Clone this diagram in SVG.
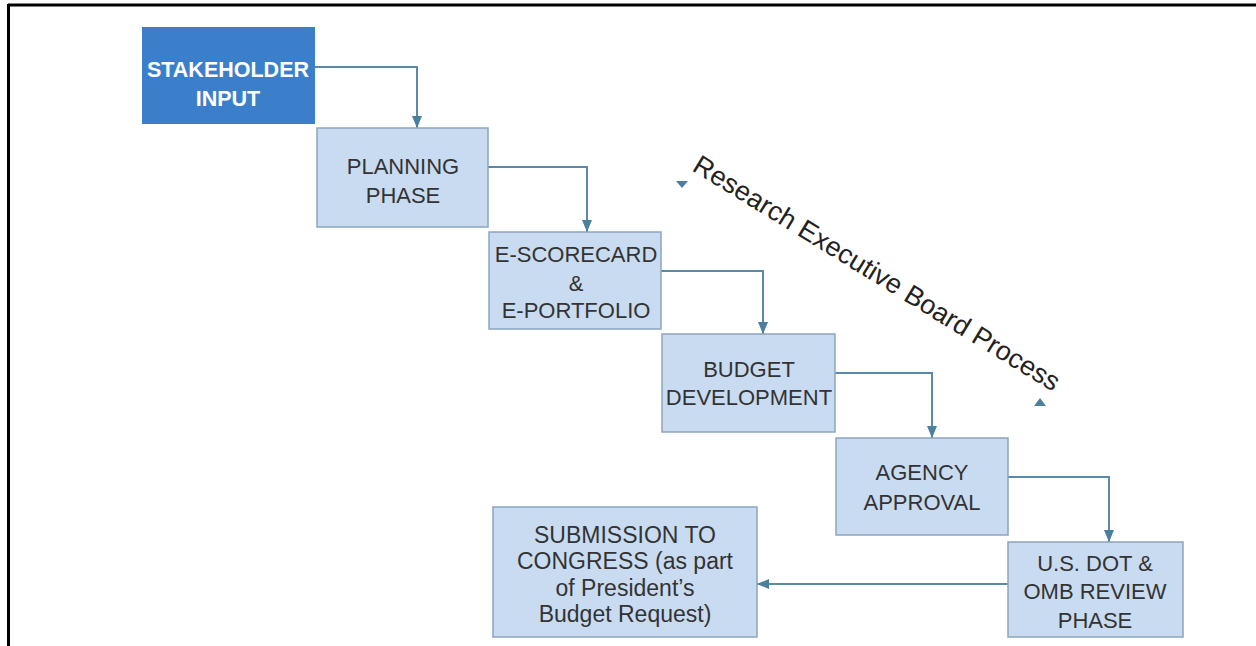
<svg xmlns="http://www.w3.org/2000/svg" width="1256" height="646" viewBox="0 0 1256 646">
<defs>
<marker id="ah" markerUnits="userSpaceOnUse" markerWidth="12" markerHeight="10" viewBox="0 0 12 10" refX="12" refY="5" orient="auto">
<path d="M0,0 L12,5 L0,10 Z" fill="#4a7f9e"/>
</marker>
<style>
.box{fill:#c8dbf1;stroke:#8da5bf;stroke-width:1.5}
.t{font-family:"Liberation Sans",Arial,sans-serif;font-size:22px;fill:#333;text-anchor:middle}
.w{font-family:"Liberation Sans",Arial,sans-serif;font-size:21.5px;font-weight:bold;fill:#fff;text-anchor:middle}
.c{fill:none;stroke:#5a8aa8;stroke-width:2;marker-end:url(#ah)}
</style>
</defs>
<rect width="1256" height="646" fill="#fff"/>
<g id="frame">
<line x1="8" y1="5" x2="1256" y2="5" stroke="#000" stroke-width="3"/>
<line x1="8.5" y1="4" x2="8.5" y2="646" stroke="#000" stroke-width="3"/>
</g>
<g id="connectors">
<path class="c" d="M315,67 H417 V128"/>
<path class="c" d="M488,167 H587 V232"/>
<path class="c" d="M661,271 H763 V334"/>
<path class="c" d="M835,373 H932 V438"/>
<path class="c" d="M1008,477 H1109 V542"/>
<path class="c" d="M1008,584 H757"/>
</g>
<g id="stakeholder">
<rect x="142" y="27" width="173" height="97" fill="#3b7fcb"/>
<text class="w" x="228" y="77">STAKEHOLDER</text>
<text class="w" x="228" y="106">INPUT</text>
</g>
<g id="planning">
<rect class="box" x="317" y="128" width="171" height="99"/>
<text class="t" x="403" y="174">PLANNING</text>
<text class="t" x="403" y="203">PHASE</text>
</g>
<g id="escorecard">
<rect class="box" x="489" y="232" width="172" height="97"/>
<text class="t" x="576" y="262">E-SCORECARD</text>
<text class="t" x="576" y="291">&amp;</text>
<text class="t" x="576" y="318">E-PORTFOLIO</text>
</g>
<g id="budget">
<rect class="box" x="662" y="334" width="173" height="98"/>
<text class="t" x="749" y="377">BUDGET</text>
<text class="t" x="749" y="405">DEVELOPMENT</text>
</g>
<g id="agency">
<rect class="box" x="836" y="438" width="172" height="97"/>
<text class="t" x="922" y="480">AGENCY</text>
<text class="t" x="922" y="510">APPROVAL</text>
</g>
<g id="usdot">
<rect class="box" x="1008" y="542" width="175" height="95"/>
<text class="t" x="1095" y="571">U.S. DOT &amp;</text>
<text class="t" x="1095" y="599">OMB REVIEW</text>
<text class="t" x="1095" y="628">PHASE</text>
</g>
<g id="submission">
<rect class="box" x="493" y="507" width="264" height="130"/>
<text class="t" x="625" y="543" style="font-size:23px">SUBMISSION TO</text>
<text class="t" x="625" y="569" style="font-size:23px">CONGRESS (as part</text>
<text class="t" x="625" y="596" style="font-size:23px">of President’s</text>
<text class="t" x="625" y="622" style="font-size:23px">Budget Request)</text>
</g>
<g id="reb-process">
<polygon points="676,181 688,181 682,188" fill="#4a7f9e"/>
<polygon points="1034,406 1046,406 1040,398" fill="#4a7f9e"/>
<text transform="translate(691,170) rotate(31.5)" font-family="Liberation Sans, Arial, sans-serif" font-size="27" fill="#222">Research Executive Board Process</text>
</g>
</svg>
